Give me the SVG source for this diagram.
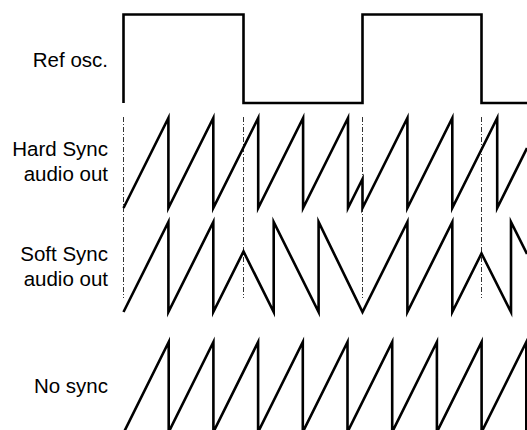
<svg xmlns="http://www.w3.org/2000/svg" width="527" height="430" viewBox="0 0 527 430">
<style>
.lbl{font-family:"Liberation Sans",Arial,sans-serif;font-size:20.5px;fill:#000;text-anchor:end}
.wave{fill:none;stroke:#000;stroke-width:2.6;stroke-linejoin:miter;stroke-miterlimit:10}
.sync{fill:none;stroke:#333;stroke-width:1;stroke-dasharray:5 2 1 2}
</style>
<rect width="527" height="430" fill="#fff"/>
<g id="labels">
<g id="label-ref"><text class="lbl" x="108" y="67">Ref osc.</text></g>
<g id="label-hard"><text class="lbl" x="108" y="156">Hard Sync</text><text class="lbl" x="108" y="181">audio out</text></g>
<g id="label-soft"><text class="lbl" x="108" y="261">Soft Sync</text><text class="lbl" x="108" y="286">audio out</text></g>
<g id="label-nosync"><text class="lbl" x="108" y="393">No sync</text></g>
</g>
<g id="connectors">
<line class="sync" x1="123.5" y1="117" x2="123.5" y2="298"/>
<line class="sync" x1="243.5" y1="117" x2="243.5" y2="298"/>
<line class="sync" x1="362.5" y1="117" x2="362.5" y2="298"/>
<line class="sync" x1="481.5" y1="117" x2="481.5" y2="298"/>
</g>
<g id="ref-osc"><path class="wave" d="M123.5,103 V14.5 H243.5 V103 H362.5 V14.5 H481.5 V103 H527"/></g>
<g id="hard-sync"><path class="wave" d="M123.5,208 L168.4,118 V208 L213.3,118 V208 L258.2,118 V208 L303.1,118 V208 L348,118 V208 L362.5,179 V208 L407.4,118 V208 L452.3,118 V208 L497.2,118 V208 L527,148"/></g>
<g id="soft-sync"><path class="wave" d="M123.5,312 L168.4,222 V312 L213.3,222 V312 L243.5,251.5 L273.7,312 V222 L318.6,312 V222 L362.5,312 L407.4,222 V312 L452.3,222 V312 L481.5,253.5 L511,312 V222 L527,254"/></g>
<g id="no-sync"><path class="wave" d="M124,432 L168.7,342 V432 L213.4,342 V432 L258.1,342 V432 L302.8,342 V432 L347.5,342 V432 L392.2,342 V432 L436.9,342 V432 L481.6,342 V432 L526.3,342 V432"/></g>
</svg>
